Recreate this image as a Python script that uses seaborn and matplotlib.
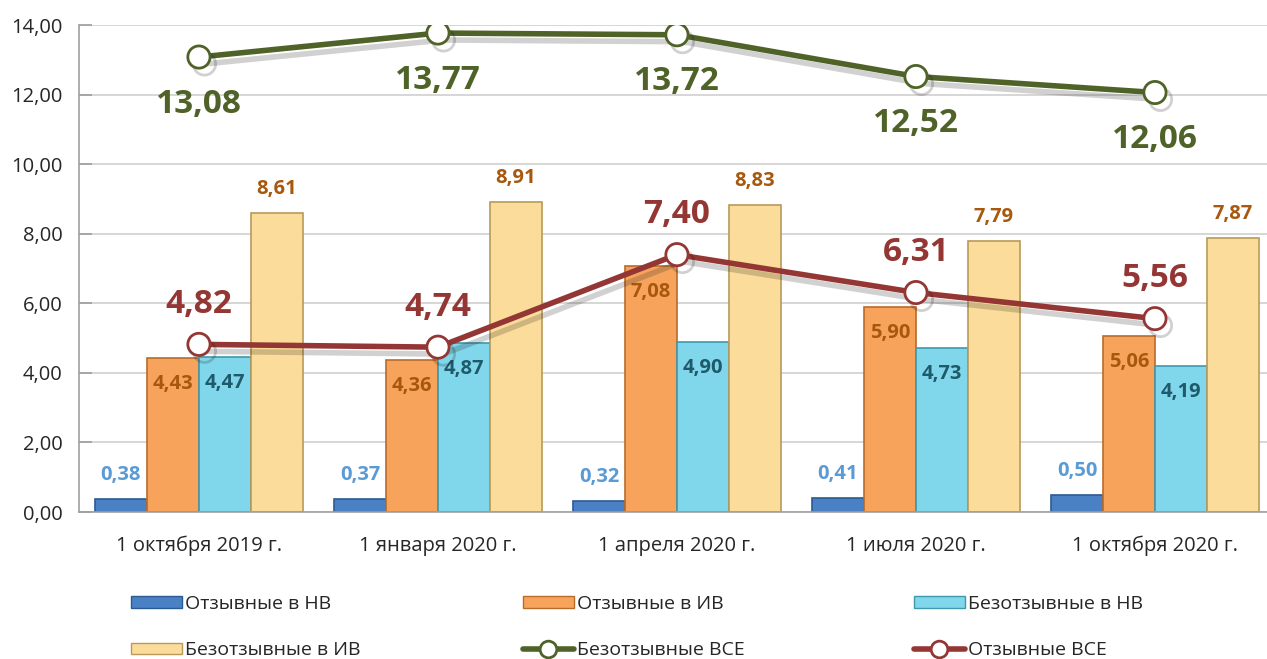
import numpy as np
import pandas as pd
import seaborn as sns
import matplotlib.pyplot as plt
import matplotlib.patheffects as pe
from matplotlib.ticker import FuncFormatter, MultipleLocator
from matplotlib.lines import Line2D
from matplotlib.patches import Patch

dates = ['1 октября 2019 г.', '1 января 2020 г.', '1 апреля 2020 г.',
         '1 июля 2020 г.', '1 октября 2020 г.']
bar_series = ['Отзывные в НВ', 'Отзывные в ИВ', 'Безотзывные в НВ', 'Безотзывные в ИВ']
otz_nv = [0.38, 0.37, 0.32, 0.41, 0.50]
otz_iv = [4.43, 4.36, 7.08, 5.90, 5.06]
bez_nv = [4.47, 4.87, 4.90, 4.73, 4.19]
bez_iv = [8.61, 8.91, 8.83, 7.79, 7.87]
bez_all = [13.08, 13.77, 13.72, 12.52, 12.06]
otz_all = [4.82, 4.74, 7.40, 6.31, 5.56]

bar_colors = ['#4a80c4', '#f7a35c', '#80d6ea', '#fcdc9a']
bar_edges = ['#2c5a92', '#b86c2a', '#3f98ac', '#b89a5a']
label_colors = ['#5b9bd5', '#a8580c', '#1f5a6b', '#a8580c']
green = '#4f6228'
red = '#943634'


def fmt(v):
    return f'{v:.2f}'.replace('.', ',')


df = pd.DataFrame({
    'date': np.repeat(dates, 4),
    'series': bar_series * len(dates),
    'value': np.ravel(np.column_stack([otz_nv, otz_iv, bez_nv, bez_iv])),
})

sns.set_theme(style='white')
plt.rcParams['font.family'] = ['Open Sans', 'DejaVu Sans']

fig = plt.figure(figsize=(12.67, 6.59), dpi=100)
ax = fig.add_axes([0.0627, 0.223, 0.9432, 0.739])

sns.barplot(data=df, x='date', y='value', hue='series', order=dates,
            hue_order=bar_series, palette=bar_colors, width=0.87, gap=0,
            legend=False, ax=ax, saturation=1)

for i, cont in enumerate(ax.containers):
    for p in cont:
        p.set_edgecolor(bar_edges[i])
        p.set_linewidth(1.2)
    labels = [fmt(v) for v in cont.datavalues]
    if i in (0, 3):
        ax.bar_label(cont, labels=labels, padding=10, color=label_colors[i],
                     fontsize=14.5, fontweight='bold')
    else:
        ax.bar_label(cont, labels=labels, padding=-26, color=label_colors[i],
                     fontsize=14.5, fontweight='bold')

shadow = [pe.SimpleLineShadow(offset=(4, -5), alpha=0.2), pe.Normal()]
x = np.arange(len(dates))
ax.plot(x, bez_all, color=green, lw=4, marker='o', ms=16, mfc='white',
        mec=green, mew=2, zorder=5, path_effects=shadow)
ax.plot(x, otz_all, color=red, lw=4, marker='o', ms=16, mfc='white',
        mec=red, mew=2, zorder=5, path_effects=shadow)

for xi, v in zip(x, bez_all):
    ax.annotate(fmt(v), (xi, v), xytext=(0, -22), textcoords='offset points',
                ha='center', va='top', color=green, fontsize=24, fontweight='bold')
for xi, v in zip(x, otz_all):
    ax.annotate(fmt(v), (xi, v), xytext=(0, 17), textcoords='offset points',
                ha='center', va='bottom', color=red, fontsize=24, fontweight='bold')

ax.set_ylim(0, 14)
ax.set_xlim(-0.5, len(dates) - 0.5)
ax.yaxis.set_major_locator(MultipleLocator(2))
ax.yaxis.set_major_formatter(FuncFormatter(lambda v, _: fmt(v)))
ax.grid(axis='y', color='#d0d0d0', lw=1.2)
ax.set_axisbelow(True)
for s in ['top', 'right']:
    ax.spines[s].set_visible(False)
for s in ['left', 'bottom']:
    ax.spines[s].set_color('#a0a0a0')
    ax.spines[s].set_linewidth(1.2)
ax.tick_params(axis='y', left=True, direction='in', length=9, color='#a0a0a0',
               labelsize=14.5, pad=12)
ax.tick_params(axis='x', bottom=False, labelsize=14.5, pad=11)
ax.set_xlabel('')
ax.set_ylabel('')

handles = [Patch(facecolor=c, edgecolor=e, label=l)
           for c, e, l in zip(bar_colors, bar_edges, bar_series)]
handles.append(Line2D([], [], color=green, lw=4, marker='o', ms=12, mfc='white',
                      mec=green, mew=2, label='Безотзывные ВСЕ'))
handles.append(Line2D([], [], color=red, lw=4, marker='o', ms=12, mfc='white',
                      mec=red, mew=2, label='Отзывные ВСЕ'))
columns = [(0, 3), (1, 4), (2, 5)]
col_x = [131, 523, 914]
for (a, b), cx in zip(columns, col_x):
    fig.legend([handles[a], handles[b]], [handles[a].get_label(), handles[b].get_label()],
               loc='center left', bbox_to_anchor=(cx / 1267, 1 - 627 / 659),
               frameon=False, fontsize=14, handlelength=2.6, handleheight=0.5,
               handletextpad=0.2, labelspacing=1.45, borderpad=0, borderaxespad=0)

fig.savefig('out.png', dpi=100)
